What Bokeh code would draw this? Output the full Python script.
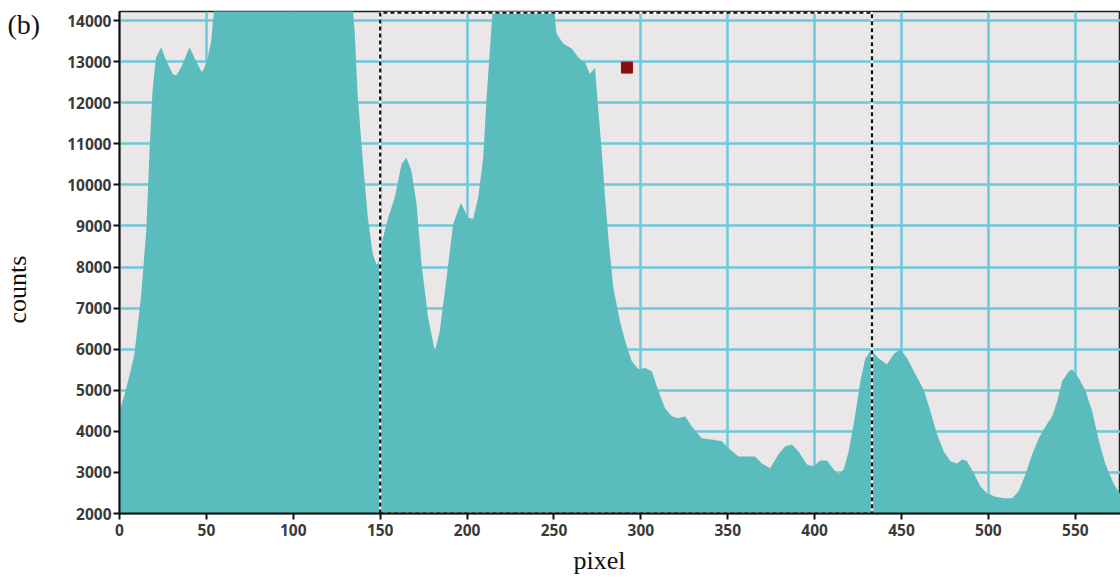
from bokeh.plotting import figure
from bokeh.models import Range1d, Label, FixedTicker, ColumnDataSource, Title
from bokeh.embed import file_html
from bokeh.resources import INLINE
from bokeh.core import enums

# ---- data ----
pixel = [0, 3, 6, 8.6, 12.5, 15.4, 17.3, 19, 21, 24, 26.9, 30.7, 32.6, 35.5, 40.3, 44, 47.4, 50,
         52.8, 54.7, 60, 70, 80, 90, 100, 110, 120, 130, 134, 135.3, 137, 140, 142.9, 145.7,
         147.8, 149, 150.7, 154.6, 158.4, 162.3, 165.1, 168, 170.9, 173.8, 177.6, 181.5, 184.3,
         188.2, 192, 196.4, 200.6, 203.5, 206.4, 209.3, 211.2, 213.1, 215, 225, 235, 245, 249.6,
         251.5, 255.3, 260.2, 264, 267.9, 270.7, 273.6, 275.2, 277.5, 279.4, 281.3, 284.2, 288,
         291, 294.7, 298.6, 302.4, 306.3, 310.1, 313.9, 317.8, 321.6, 325.5, 329.3, 335, 340.8,
         346.6, 350.4, 356.2, 361.9, 365.8, 369.6, 374.4, 379.2, 383, 386.9, 390.7, 395.6, 399.4,
         403.2, 407.1, 410.9, 413.8, 416.7, 419.6, 423.4, 426.3, 429.1, 432, 433, 436.8, 441.6,
         445.5, 449.3, 453.2, 458, 462.7, 466.6, 470.4, 474.3, 478.1, 482, 484.9, 487.7, 491.6,
         495.4, 499.2, 504, 508.8, 513.6, 517.4, 521.3, 525.2, 529, 532.8, 536.7, 539.6, 542.4,
         546.3, 548.2, 552, 555.9, 559.7, 563.6, 567.4, 572.2, 576]
counts = [4500, 4900, 5400, 5880, 7340, 8880, 10830, 12290, 13100, 13350, 13020, 12700, 12660,
          12860, 13350, 13020, 12740, 12950, 13510, 14400, 14800, 14900, 14900, 14900, 14900,
          14900, 14900, 14800, 14400, 13760, 12220, 10590, 9200, 8320, 8070, 8100, 8560, 9200,
          9690, 10510, 10660, 10340, 9540, 8070, 6760, 5950, 6440, 7730, 9050, 9560, 9200, 9170,
          9690, 10660, 12120, 13270, 14400, 14800, 14800, 14700, 14400, 13680, 13440, 13320,
          13100, 12980, 12700, 12850, 11980, 10830, 9690, 8710, 7490, 6680, 6200, 5710, 5510,
          5540, 5460, 4980, 4560, 4370, 4320, 4370, 4120, 3830, 3800, 3760, 3590, 3390, 3390,
          3390, 3220, 3100, 3440, 3630, 3680, 3510, 3190, 3150, 3290, 3290, 3070, 2950, 3070,
          3510, 4410, 5220, 5760, 5950, 5950, 5780, 5630, 5880, 6000, 5780, 5390, 5020, 4490,
          3930, 3510, 3270, 3220, 3320, 3270, 2980, 2660, 2490, 2410, 2370, 2370, 2540, 2950,
          3440, 3830, 4120, 4370, 4730, 5220, 5460, 5510, 5290, 4980, 4490, 3760, 3190, 2710,
          2460]
x_ticks = [0, 50, 100, 150, 200, 250, 300, 350, 400, 450, 500, 550]
y_ticks = [2000, 3000, 4000, 5000, 6000, 7000, 8000, 9000, 10000, 11000, 12000, 13000, 14000]
roi_x = [150, 433]
roi_y = [2000, 14190]
marker_x = [292]
marker_y = [12854]

p = figure(width=1120, height=579, output_backend="svg", toolbar_location=None,
           x_range=Range1d(0, 576), y_range=Range1d(2000, 14220),
           min_border_left=119, min_border_right=0, min_border_top=11, min_border_bottom=66)
p.border_fill_color = "#ffffff"
p.background_fill_color = "#e9e7e7"
p.outline_line_color = "#222222"
p.outline_line_width = 1.5

for g in (p.xgrid[0], p.ygrid[0]):
    g.grid_line_color = "#6ec9dc"
    g.grid_line_width = 2.5
p.xgrid[0].ticker = FixedTicker(ticks=x_ticks)
p.ygrid[0].ticker = FixedTicker(ticks=y_ticks)

p.xaxis.ticker = FixedTicker(ticks=x_ticks)
p.yaxis.ticker = FixedTicker(ticks=y_ticks)
for ax in (p.xaxis[0], p.yaxis[0]):
    ax.axis_line_color = "#111111"
    ax.axis_line_width = 2
    ax.major_tick_line_color = "#111111"
    ax.major_tick_line_width = 2
    ax.major_tick_out = 6
    ax.major_tick_in = 0
    ax.minor_tick_line_color = None
    ax.major_label_text_font = "Noto Sans"
    ax.major_label_text_font_size = "15.5px"
    ax.major_label_text_font_style = "bold"
    ax.major_label_text_color = "#3a3a3a"
p.yaxis.major_label_standoff = 2
p.xaxis.major_label_standoff = 4

src = ColumnDataSource(dict(x=pixel, y=counts))
p.varea(x="x", y1=0, y2="y", source=src, fill_color="#5bbcbd", fill_alpha=1.0)

# region of interest (dashed rectangle)
rx = [roi_x[0], roi_x[0], roi_x[1], roi_x[1], roi_x[0]]
ry = [roi_y[0], roi_y[1], roi_y[1], roi_y[0], roi_y[0]]
p.line(rx, ry, line_color="white", line_width=2.2)
p.line(rx, ry, line_color="#111111", line_width=2.2, line_dash="4 3")

p.scatter(marker_x, marker_y, marker="square", size=11, fill_color="#8b0e0e", line_color="#8b0e0e")

# panel letter, placed in a side panel (between the axis and the axis title) so it is not clipped
units = getattr(enums, "CoordinateUnits", None)
if units is not None and "canvas" in units:
    lab = Label(x=7, y=24, x_units="canvas", y_units="canvas", text="(b)")
else:
    lab = Label(x=-112, y=488, x_units="screen", y_units="screen", text="(b)")
lab.text_font = "Liberation Serif"
lab.text_font_size = "28px"
lab.text_align = "left"
lab.text_baseline = "middle"
lab.text_color = "#111111"
p.add_layout(lab, "left")

# axis titles
p.add_layout(Title(text="counts", align="left", offset=190, standoff=0,
                   text_font="Liberation Serif", text_font_size="26px",
                   text_font_style="normal", text_color="#111111"), "left")
p.add_layout(Title(text="pixel", align="left", offset=454, standoff=10,
                   text_font="Liberation Serif", text_font_size="26px",
                   text_font_style="normal", text_color="#111111"), "below")

open("out.html", "w").write(file_html(p, INLINE))
